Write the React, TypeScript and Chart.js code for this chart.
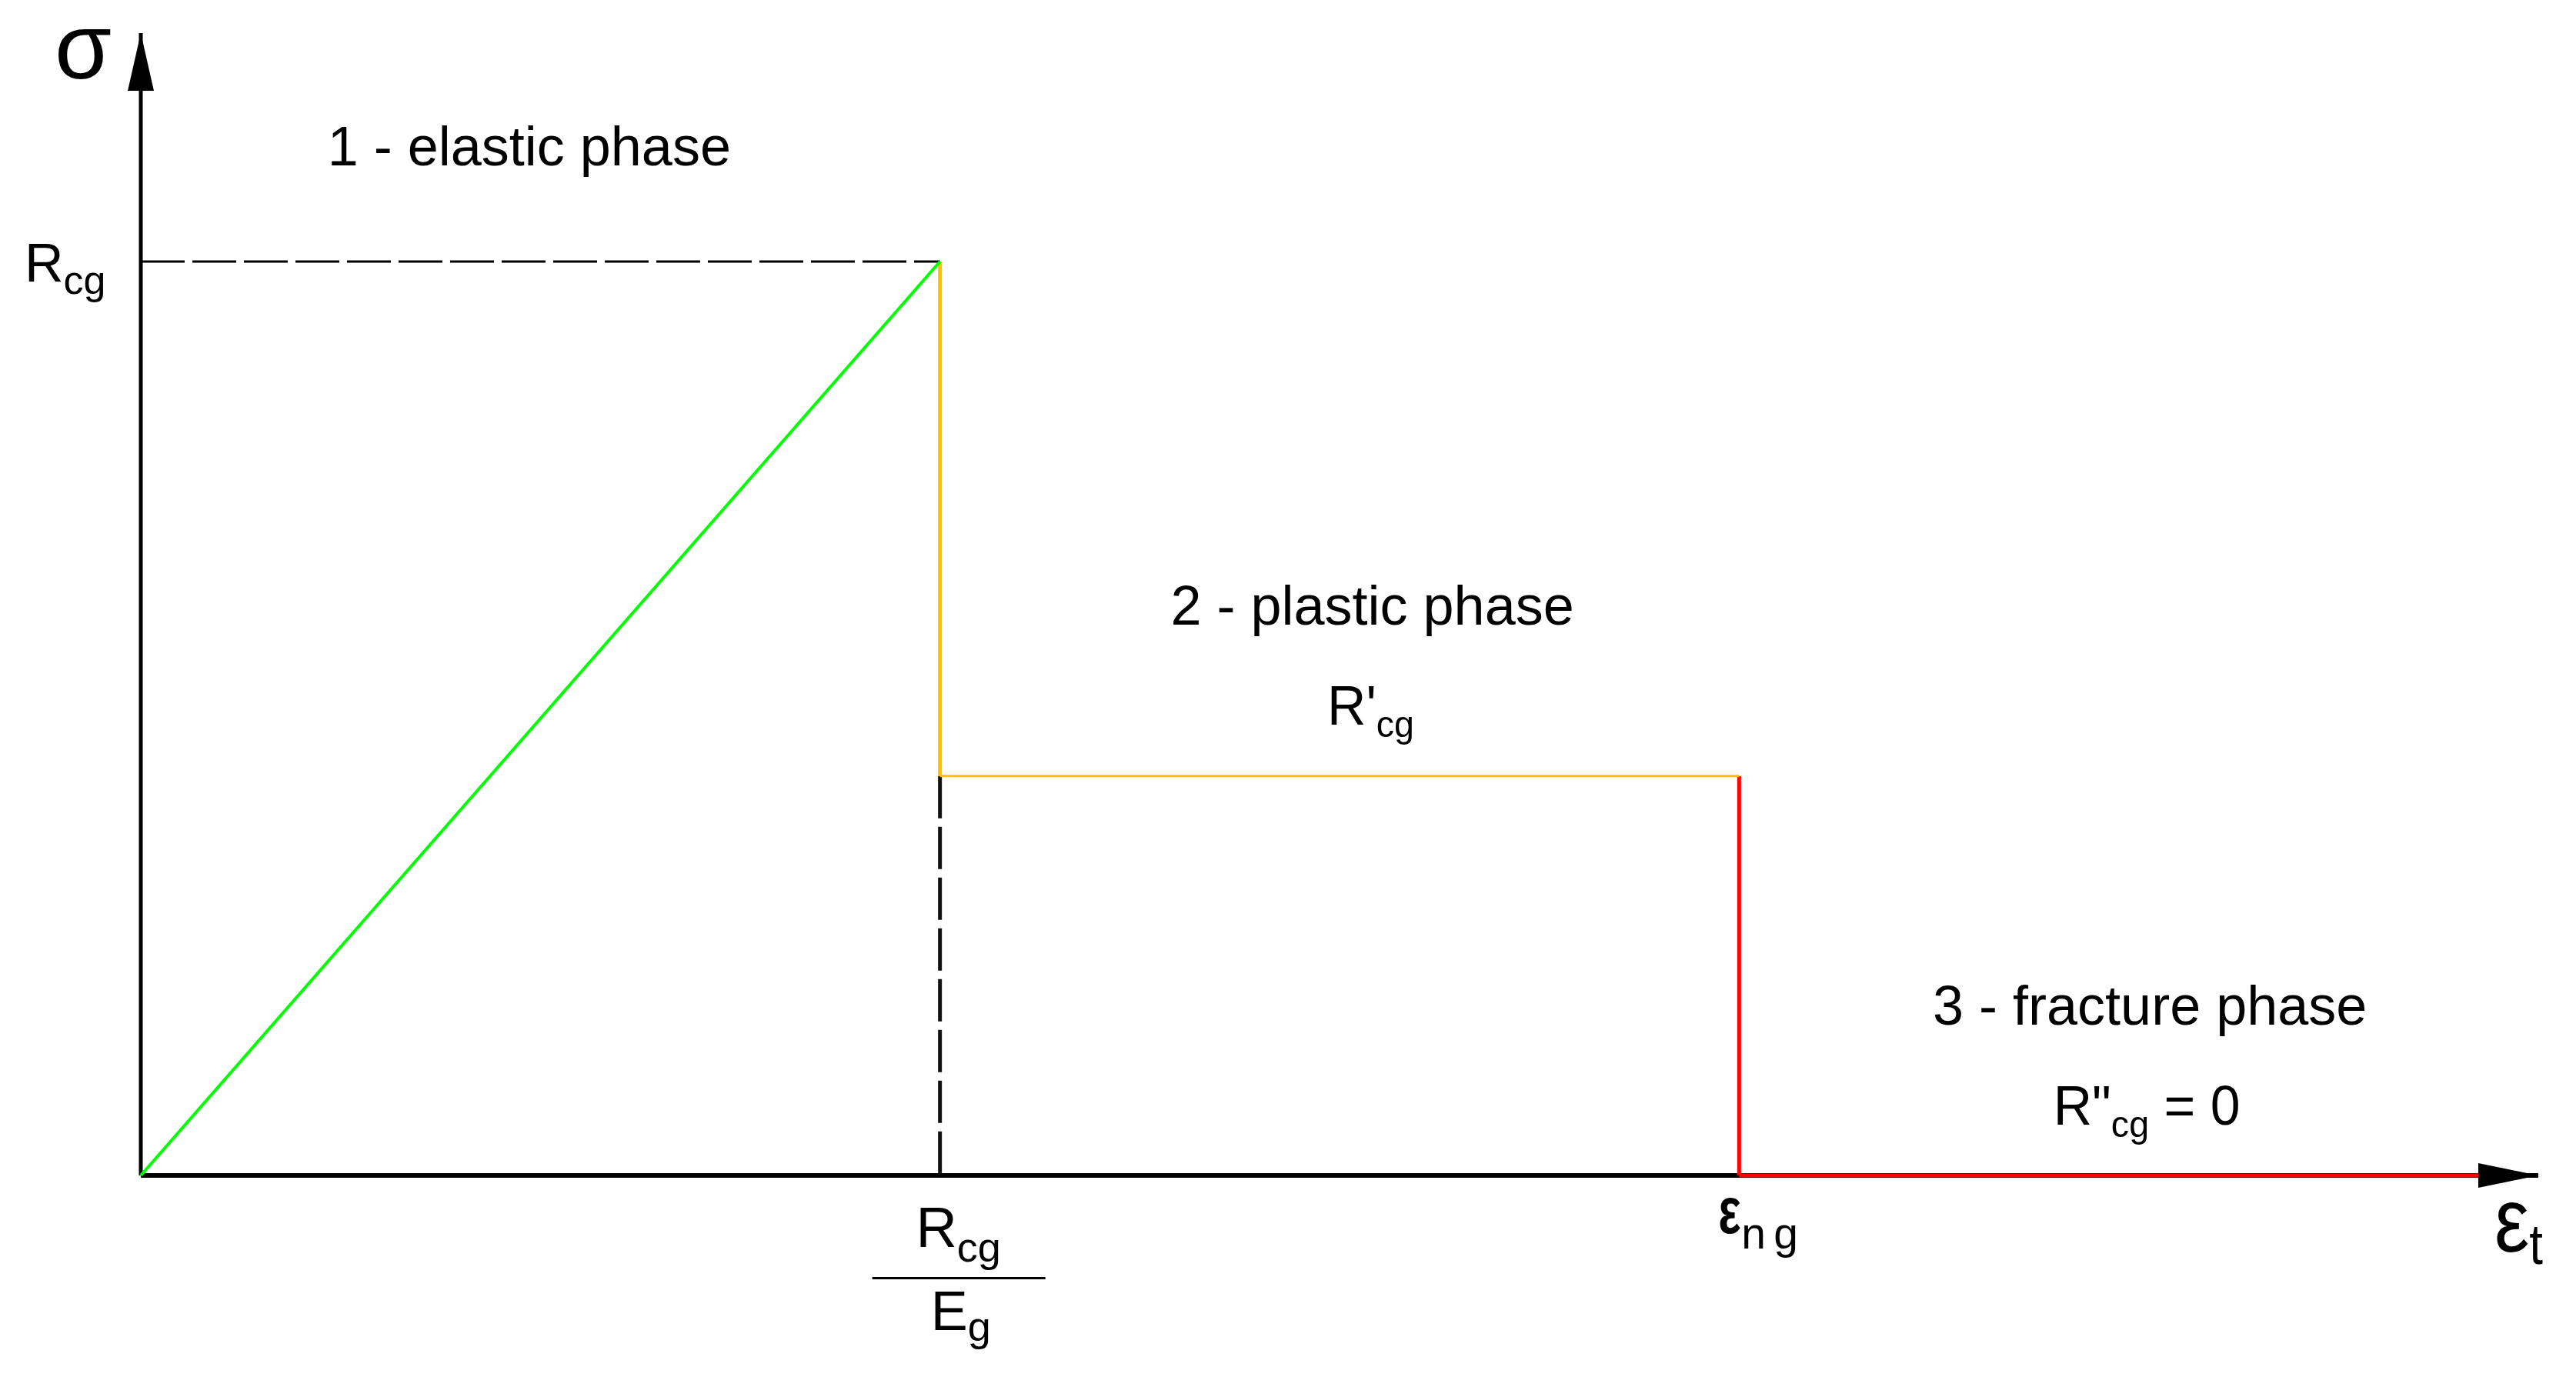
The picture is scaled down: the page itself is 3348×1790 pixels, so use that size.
import React, { useEffect, useRef } from "react";
import { Chart, registerables } from "chart.js";

Chart.register(...registerables);

const FONT = '"Liberation Sans", Arial, Helvetica, sans-serif';

// Strain in units of Rcg/Eg, stress in units of Rcg
const strainMax = 3;
const stressMax = 1.25;
const strainTicks = [1, 2];

const elasticStrain = [0, 1];
const elasticStress = [0, 1];
const plasticDropStrain = [1, 1];
const plasticDropStress = [1, 0.437];
const plasticFlowStrain = [1, 2];
const plasticFlowStress = [0.437, 0.437];
const fractureDropStrain = [2, 2];
const fractureDropStress = [0.437, 0];
const fractureFlowStrain = [2, 2.925];
const fractureFlowStress = [0, 0];
const yieldGuideStrain = [0, 1];
const yieldGuideStress = [1, 1];
const strainGuideStrain = [1, 1];
const strainGuideStress = [0.437, 0];
const xAxisStrain = [0, 3];
const xAxisStress = [0, 0];
const yAxisStrain = [0, 0];
const yAxisStress = [0, 1.25];

const phaseTitles = ["1 - elastic phase", "2 - plastic phase", "3 - fracture phase"];
const phaseTitleStrain = [0.486, 1.541, 2.514];
const phaseTitleStress = [1.105, 0.603, 0.165];
const phaseResistMain = ["", "R'", 'R"'];
const phaseResistSuffix = ["", "", " = 0"];
const phaseResistStrain = [0, 1.539, 2.51];
const phaseResistStress = [0, 0.493, 0.0556];

const zip = (xs: number[], ys: number[]) => xs.map((v, i) => ({ x: v, y: ys[i] }));

type Seg = { t: string; size: number; dy?: number; bold?: boolean; gap?: number };

function drawRich(
  ctx: CanvasRenderingContext2D,
  x: number,
  y: number,
  segs: Seg[],
  align: "left" | "center",
  sx: number
) {
  const widths = segs.map((s) => {
    ctx.font = `${s.bold ? "bold " : ""}${s.size}px ${FONT}`;
    return ctx.measureText(s.t).width + (s.gap || 0);
  });
  const total = widths.reduce((a, b) => a + b, 0) * sx;
  const start = align === "center" ? x - total / 2 : x;
  ctx.save();
  ctx.translate(start, y);
  ctx.scale(sx, 1);
  let cx = 0;
  segs.forEach((s, i) => {
    ctx.font = `${s.bold ? "bold " : ""}${s.size}px ${FONT}`;
    ctx.fillText(s.t, cx + (s.gap || 0), s.dy || 0);
    cx += widths[i];
  });
  ctx.restore();
}

const annotations = {
  id: "annotations",
  afterDatasetsDraw(chart: any) {
    const { ctx, scales } = chart;
    const px = (v: number) => scales.x.getPixelForValue(v);
    const py = (v: number) => scales.y.getPixelForValue(v);
    ctx.save();
    ctx.fillStyle = "#000";
    ctx.textBaseline = "alphabetic";

    // arrow heads
    const ox = px(0);
    const oy = py(0);
    const ty = py(stressMax);
    ctx.beginPath();
    ctx.moveTo(ox, ty);
    ctx.lineTo(ox - 17, ty + 75);
    ctx.lineTo(ox + 17, ty + 75);
    ctx.closePath();
    ctx.fill();
    const tx = px(strainMax);
    ctx.beginPath();
    ctx.moveTo(tx, oy);
    ctx.lineTo(tx - 78, oy - 16);
    ctx.lineTo(tx - 78, oy + 16);
    ctx.closePath();
    ctx.fill();

    // axis titles
    drawRich(ctx, ox - 112, ty + 59, [{ t: "σ", size: 120 }], "left", 1);
    drawRich(
      ctx,
      tx - 57,
      oy + 99,
      [
        { t: "ε", size: 118 },
        { t: "t", size: 74, dy: 16 },
      ],
      "left",
      0.86
    );

    // y tick label Rcg
    drawRich(
      ctx,
      ox - 151,
      py(1) + 26,
      [
        { t: "R", size: 70 },
        { t: "cg", size: 52, dy: 16 },
      ],
      "left",
      1
    );

    // x tick label Rcg / Eg
    const x1 = px(strainTicks[0]);
    drawRich(
      ctx,
      x1 + 24,
      oy + 93,
      [
        { t: "R", size: 74 },
        { t: "cg", size: 54, dy: 19 },
      ],
      "center",
      1
    );
    ctx.fillRect(x1 - 88, oy + 132, 225, 3);
    drawRich(
      ctx,
      x1 + 27,
      oy + 201,
      [
        { t: "E", size: 72 },
        { t: "g", size: 54, dy: 14 },
      ],
      "center",
      1
    );

    // x tick label eps ng
    const x2 = px(strainTicks[1]);
    drawRich(ctx, x2 - 27, oy + 75, [{ t: "ε", size: 86, bold: true }], "left", 0.72);
    drawRich(ctx, x2 + 3, oy + 95, [{ t: "n", size: 57 }], "left", 1);
    drawRich(ctx, x2 + 45, oy + 95, [{ t: "g", size: 57 }], "left", 1);

    // phase titles
    phaseTitles.forEach((t, i) => {
      drawRich(ctx, px(phaseTitleStrain[i]), py(phaseTitleStress[i]), [{ t, size: 72 }], "center", 1);
    });
    phaseResistMain.forEach((m, i) => {
      if (!m) return;
      drawRich(
        ctx,
        px(phaseResistStrain[i]),
        py(phaseResistStress[i]),
        [
          { t: m, size: 72 },
          { t: "cg", size: 48, dy: 16 },
          { t: phaseResistSuffix[i], size: 72 },
        ],
        "center",
        0.97
      );
    });
    ctx.restore();
  },
};

export default function App() {
  const ref = useRef<HTMLCanvasElement | null>(null);
  useEffect(() => {
    if (!ref.current) return;
    const line = (data: { x: number; y: number }[], color: string, width: number, dash: number[] = []) => ({
      data,
      showLine: true,
      borderColor: color,
      backgroundColor: color,
      borderWidth: width,
      borderDash: dash,
      borderCapStyle: "butt",
      borderJoinStyle: "miter",
      pointRadius: 0,
      pointHoverRadius: 0,
      fill: false,
      tension: 0,
      clip: false,
    });
    const chart = new Chart(ref.current, {
      type: "scatter",
      data: {
        datasets: [
          line(zip(elasticStrain, elasticStress), "#00FF00", 4),
          line(zip(plasticDropStrain, plasticDropStress), "#FFC000", 5),
          line(zip(plasticFlowStrain, plasticFlowStress), "#FFC000", 3),
          line(zip(fractureDropStrain, fractureDropStress), "#FF0000", 5),
          line(zip(fractureFlowStrain, fractureFlowStress), "#FF0000", 5),
          line(zip(yieldGuideStrain, yieldGuideStress), "#000000", 3, [57, 10]),
          line(zip(strainGuideStrain, strainGuideStress), "#111111", 5, [55, 11]),
          line(zip(xAxisStrain, xAxisStress), "#000000", 6),
          line(zip(yAxisStrain, yAxisStress), "#000000", 5),
        ] as any,
      },
      options: {
        responsive: false,
        animation: false,
        events: [],
        layout: { padding: { left: 183, right: 49, top: 43, bottom: 262 }, autoPadding: false },
        plugins: { legend: { display: false }, tooltip: { enabled: false }, title: { display: false } },
        scales: {
          x: { type: "linear", min: 0, max: strainMax, display: false },
          y: { type: "linear", min: 0, max: stressMax, display: false },
        },
      } as any,
      plugins: [annotations],
    });
    return () => chart.destroy();
  }, []);
  return (
    <div style={{ position: "fixed", left: 0, top: 0, width: 3348, height: 1790, background: "#fff" }}>
      <canvas ref={ref} width={3348} height={1790} style={{ display: "block" }} />
    </div>
  );
}
